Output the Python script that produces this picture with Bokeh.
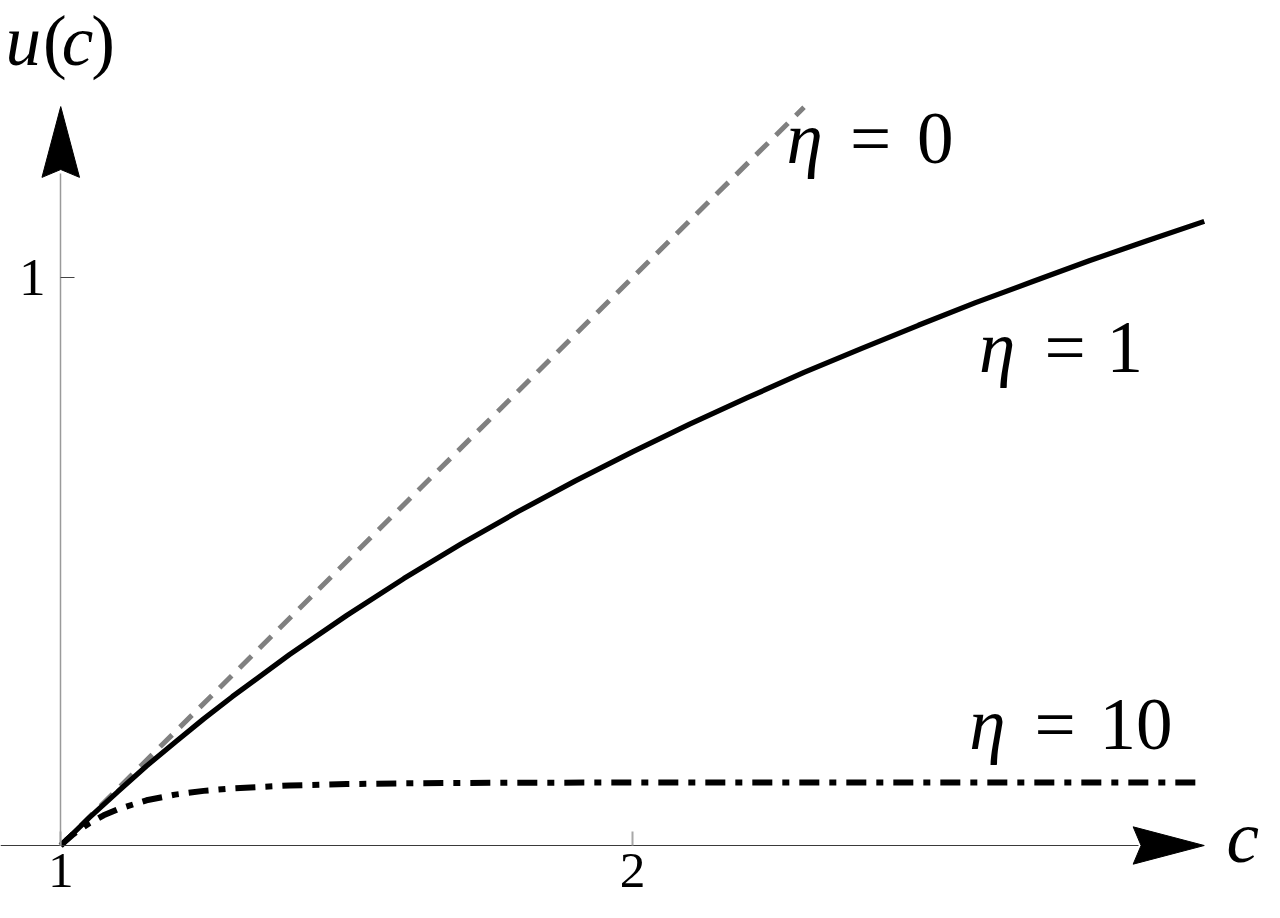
from bokeh.plotting import figure
from bokeh.models import Range1d, LinearAxis, FixedTicker
from bokeh.core.properties import value
from bokeh.embed import file_html
from bokeh.resources import INLINE

# ---------------- data ----------------
c_eta0 = [1.0, 2.30]
u_eta0 = [0.0, 1.30]

c_eta1 = [1.0, 1.05, 1.1, 1.15, 1.2, 1.25, 1.3, 1.4, 1.5, 1.6, 1.7, 1.8, 1.9,
          2.0, 2.1, 2.2, 2.3, 2.4, 2.5, 2.6, 2.7, 2.8, 2.9, 3.0]
u_eta1 = [0.0, 0.049, 0.095, 0.140, 0.182, 0.223, 0.262, 0.336, 0.405, 0.470,
          0.531, 0.588, 0.642, 0.693, 0.742, 0.788, 0.833, 0.875, 0.916, 0.956,
          0.993, 1.030, 1.065, 1.099]

c_eta10 = [1.0, 1.01, 1.02, 1.03, 1.05, 1.075, 1.1, 1.15, 1.2, 1.25, 1.3, 1.4,
           1.5, 1.6, 1.8, 2.0, 2.5, 3.0]
u_eta10 = [0.0, 0.0095, 0.0181, 0.0260, 0.0394, 0.0532, 0.0640, 0.0796, 0.0896,
           0.0962, 0.1006, 0.1057, 0.1082, 0.1095, 0.1106, 0.1109, 0.1111, 0.1111]

x_ticks = [1, 2]
y_ticks = [1]

curve_numbers = ["0", "1", "10"]
eta_symbol = "η"

# ---------------- geometry helpers (reference pixel -> data) ----------------
W, H = 1264, 902
REF_W, REF_H = 1280, 918
X1, SX = 61.0, 579.0     # ref x of c=1, px per unit
Y0, SY = 860.0, 578.0    # ref y of u=0, px per unit
K = W / REF_W            # size scale


def dx(xs):
    return 1.0 + (xs - X1) / SX


def dy(ys):
    return (Y0 - ys) / SY


def px(v):
    return f"{v * K:.1f}px"


x_start, x_end = dx(0), dx(REF_W)
y_top, y_bot = dy(0), dy(REF_H)

p = figure(width=W, height=H, output_backend="svg", toolbar_location=None,
           x_range=Range1d(x_start, x_end), y_range=Range1d(y_bot, y_top),
           x_axis_type=None, y_axis_type=None, min_border=0)
p.outline_line_color = None
p.grid.visible = False
p.background_fill_color = "white"
p.border_fill_color = "white"

SERIF = "Liberation Serif"

# ---------------- axes ----------------
xaxis = LinearAxis(fixed_location=0, bounds=(x_start, dx(1152)),
                   ticker=FixedTicker(ticks=x_ticks))
xaxis.axis_line_color = "#3a3a3a"
xaxis.axis_line_width = 1.2
xaxis.major_tick_in = 14
xaxis.major_tick_out = 0
xaxis.major_tick_line_color = "#a8a8a8"
xaxis.major_tick_line_width = 2
xaxis.minor_tick_line_color = None
xaxis.major_label_standoff = 8
xaxis.major_label_text_font = SERIF
xaxis.major_label_text_font_size = px(52)
xaxis.major_label_text_color = "black"
p.add_layout(xaxis, "below")

yaxis = LinearAxis(fixed_location=1, bounds=(0, dy(176)),
                   ticker=FixedTicker(ticks=y_ticks))
yaxis.axis_line_color = "#9a9a9a"
yaxis.axis_line_width = 1.5
yaxis.major_tick_in = 14
yaxis.major_tick_out = 0
yaxis.major_tick_line_color = "#444444"
yaxis.major_tick_line_width = 1.2
yaxis.minor_tick_line_color = None
yaxis.major_label_standoff = 15
yaxis.major_label_text_font = SERIF
yaxis.major_label_text_font_size = px(54)
yaxis.major_label_text_color = "black"
p.add_layout(yaxis, "left")

# arrow heads
p.patch([dx(61), dx(80), dx(61), dx(42)], [dy(108), dy(180), dy(172), dy(180)],
        fill_color="black", line_color="black", line_width=1)
p.patch([dx(1219), dx(1147), dx(1155), dx(1147)], [dy(860), dy(879), dy(860), dy(841)],
        fill_color="black", line_color="black", line_width=1)

# ---------------- curves ----------------
p.line(c_eta0, u_eta0, line_color="#808080", line_width=5, line_dash="17 11")
p.line(c_eta1, u_eta1, line_color="black", line_width=5.2)
p.line(c_eta10, u_eta10, line_color="black", line_width=6, line_dash="20 10 7 10")

# ---------------- labels ----------------
SERIF_MID = 0.3375       # em-box middle above the baseline, in em


def label(x, y_base, t, align, style="normal", size=74):
    p.text([dx(x)], [dy(y_base - SERIF_MID * size)], text=[t],
           text_font=value(SERIF), text_font_style=style,
           text_font_size=px(size), text_align=align,
           text_baseline="middle", text_color="black")


# eta labels: (eta left, '=' centre, number right, baseline) in ref px
lab_pos = [(800, 881, 963, 165), (995, 1078, 1155, 378), (985, 1068, 1185, 762)]
for (xl, xm, xr, yb), num in zip(lab_pos, curve_numbers):
    label(xl - 4, yb, eta_symbol, "left", "italic")
    label(xm, yb, "=", "center")
    label(xr + 2, yb, num, "right")

# axis titles
for t, xc, st in [("u", 23, "italic"), ("(", 55, "normal"),
                  ("c", 78, "italic"), (")", 104, "normal")]:
    label(xc, 66, t, "center", st, size=72)
label(1258, 877, "c", "center", "italic")

open("out.html", "w").write(file_html(p, INLINE))
